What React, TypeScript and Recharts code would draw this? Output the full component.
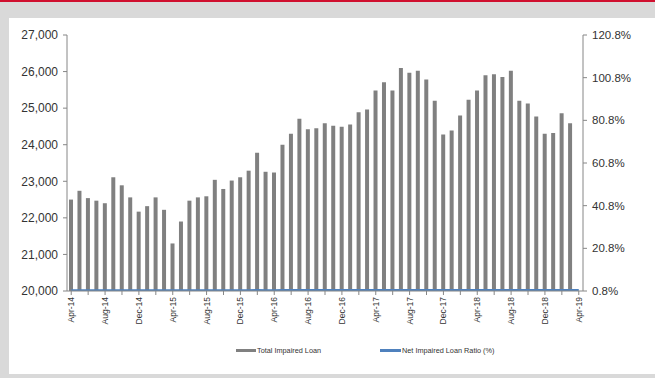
import { ComposedChart, Bar, Line, XAxis, YAxis } from "recharts";

const MONTHS = [
  "Apr-14", "May-14", "Jun-14", "Jul-14", "Aug-14", "Sep-14", "Oct-14", "Nov-14", "Dec-14", "Jan-15", "Feb-15", "Mar-15",
  "Apr-15", "May-15", "Jun-15", "Jul-15", "Aug-15", "Sep-15", "Oct-15", "Nov-15", "Dec-15", "Jan-16", "Feb-16", "Mar-16",
  "Apr-16", "May-16", "Jun-16", "Jul-16", "Aug-16", "Sep-16", "Oct-16", "Nov-16", "Dec-16", "Jan-17", "Feb-17", "Mar-17",
  "Apr-17", "May-17", "Jun-17", "Jul-17", "Aug-17", "Sep-17", "Oct-17", "Nov-17", "Dec-17", "Jan-18", "Feb-18", "Mar-18",
  "Apr-18", "May-18", "Jun-18", "Jul-18", "Aug-18", "Sep-18", "Oct-18", "Nov-18", "Dec-18", "Jan-19", "Feb-19", "Mar-19",
  "Apr-19",
];

const TOTAL_IMPAIRED_LOAN = [
  22500, 22740, 22540, 22470, 22400, 23110, 22890, 22560, 22170, 22320, 22560, 22220,
  21300, 21900, 22470, 22560, 22590, 23040, 22790, 23020, 23110, 23290, 23780, 23260,
  23240, 24000, 24300, 24710, 24420, 24450, 24590, 24520, 24490, 24550, 24890, 24960,
  25480, 25710, 25480, 26100, 25970, 26020, 25780, 25200, 24280, 24390, 24800, 25230,
  25480, 25900, 25930, 25850, 26020, 25200, 25130, 24770, 24300, 24320, 24860, 24590,
  null,
];

const NET_IMPAIRED_RATIO = [
  0.95, 0.95, 0.94, 0.94, 0.95, 0.96, 0.96, 0.95, 0.94, 0.94, 0.95, 0.94,
  0.92, 0.93, 0.94, 0.94, 0.95, 0.96, 0.95, 0.96, 0.96, 0.97, 0.98, 0.97,
  0.97, 0.99, 1.0, 1.01, 1.0, 1.0, 1.01, 1.0, 1.0, 1.0, 1.01, 1.01,
  1.02, 1.03, 1.02, 1.04, 1.03, 1.03, 1.02, 1.01, 0.99, 0.99, 1.0, 1.01,
  1.02, 1.03, 1.03, 1.03, 1.03, 1.01, 1.01, 1.0, 0.99, 0.99, 1.0, 1.0,
  1.0,
];

const LEFT_TICKS = [20000, 21000, 22000, 23000, 24000, 25000, 26000, 27000];
const RIGHT_TICKS = [0.8, 20.8, 40.8, 60.8, 80.8, 100.8, 120.8];

const data = MONTHS.map((m, i) => ({
  month: m,
  total: TOTAL_IMPAIRED_LOAN[i],
  ratio: NET_IMPAIRED_RATIO[i],
}));

const FONT = '"Liberation Sans", Arial, sans-serif';
const AXIS = "#868686";
const TEXT = "#333";

// every 2nd month gets a tick mark, every 4th a label
function MonthTick(props: any) {
  const { x, y, payload } = props;
  if (MONTHS.indexOf(payload.value) % 4 !== 0) return null;
  return (
    <g transform={`translate(${x},${y})`}>
      <text
        transform="rotate(-90)"
        x={0}
        y={0}
        dy={3}
        textAnchor="end"
        fontSize={8.5}
        fontFamily={FONT}
        fill={TEXT}
      >
        {payload.value}
      </text>
    </g>
  );
}

export default function App() {
  return (
    <div
      style={{
        position: "absolute",
        left: 0,
        top: 0,
        width: 655,
        height: 378,
        background: "#d9d9d9",
        fontFamily: FONT,
        overflow: "hidden",
      }}
    >
      <div style={{ position: "absolute", left: 0, top: 0, width: 655, height: 2, background: "#d0102f" }} />
      <div style={{ position: "absolute", left: 9, top: 18, width: 646, height: 356, background: "#fff" }} />

      <div style={{ position: "absolute", left: 0, top: 0 }}>
        <ComposedChart
          width={655}
          height={378}
          data={data}
          margin={{ top: 35, right: 0, bottom: 47, left: 0 }}
          barCategoryGap={0}
        >
          <XAxis
            dataKey="month"
            interval={1}
            tick={<MonthTick />}
            tickSize={4}
            tickMargin={2}
            height={40}
            axisLine={{ stroke: AXIS }}
            tickLine={{ stroke: AXIS }}
          />
          <YAxis
            yAxisId="left"
            domain={[20000, 27000]}
            ticks={LEFT_TICKS}
            tickFormatter={(v) => v.toLocaleString("en-US")}
            width={67}
            tickSize={4}
            tickMargin={5}
            axisLine={{ stroke: AXIS }}
            tickLine={{ stroke: AXIS }}
            tick={{ fontSize: 12, fill: TEXT, fontFamily: FONT }}
            allowDataOverflow
          />
          <YAxis
            yAxisId="right"
            orientation="right"
            domain={[0.8, 120.8]}
            ticks={RIGHT_TICKS}
            tickFormatter={(v) => `${v.toFixed(1)}%`}
            width={72}
            tickSize={4}
            tickMargin={5}
            axisLine={{ stroke: AXIS }}
            tickLine={{ stroke: AXIS }}
            tick={{ fontSize: 11.5, fill: TEXT, fontFamily: FONT }}
            allowDataOverflow
          />
          <Bar yAxisId="left" dataKey="total" name="Total Impaired Loan" fill="#808080" barSize={4} isAnimationActive={false} />
          <Line
            yAxisId="right"
            dataKey="ratio"
            name="Net Impaired Loan Ratio (%)"
            stroke="#4f81bd"
            strokeWidth={3}
            dot={false}
            isAnimationActive={false}
          />
        </ComposedChart>
      </div>

      {/* legend */}
      <div style={{ position: "absolute", left: 236, top: 346, display: "flex", alignItems: "center", fontSize: 7.3, color: TEXT }}>
        <span style={{ display: "inline-block", width: 20, height: 3, background: "#808080", marginRight: 1 }} />
        <span>Total Impaired Loan</span>
      </div>
      <div style={{ position: "absolute", left: 380, top: 346, display: "flex", alignItems: "center", fontSize: 7.3, color: TEXT }}>
        <span style={{ display: "inline-block", width: 21, height: 2.5, background: "#4f81bd", marginRight: 1 }} />
        <span>Net Impaired Loan Ratio (%)</span>
      </div>
    </div>
  );
}
